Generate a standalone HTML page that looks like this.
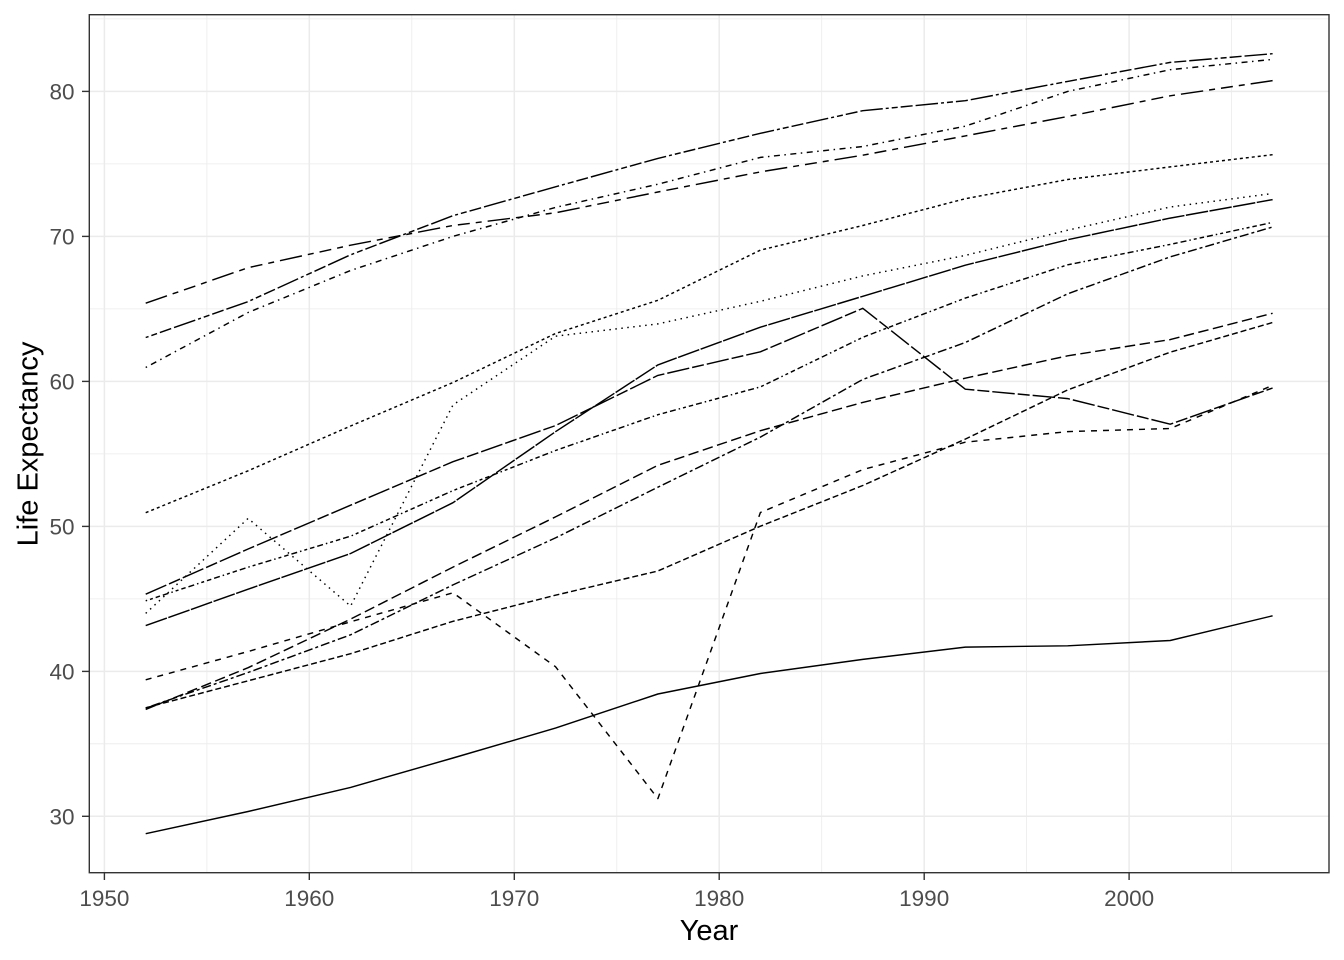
<!DOCTYPE html>
<html>
<head>
<meta charset="utf-8">
<style>
html,body{margin:0;padding:0;background:#fff;}
svg{display:block;}
text{font-family:"Liberation Sans",Arial,sans-serif;}
</style>
</head>
<body>
<svg width="1344" height="960" viewBox="0 0 1344 960" xmlns="http://www.w3.org/2000/svg">
<rect x="0" y="0" width="1344" height="960" fill="#fff"/>
<!-- minor grid -->
<g stroke="#ebebeb" stroke-width="0.8" fill="none">
<line x1="89" x2="1329" y1="18.9" y2="18.9"/>
<line x1="89" x2="1329" y1="163.9" y2="163.9"/>
<line x1="89" x2="1329" y1="308.9" y2="308.9"/>
<line x1="89" x2="1329" y1="453.9" y2="453.9"/>
<line x1="89" x2="1329" y1="598.9" y2="598.9"/>
<line x1="89" x2="1329" y1="743.8" y2="743.8"/>
<line y1="15" y2="873" x1="206.9" x2="206.9"/>
<line y1="15" y2="873" x1="411.8" x2="411.8"/>
<line y1="15" y2="873" x1="616.8" x2="616.8"/>
<line y1="15" y2="873" x1="821.7" x2="821.7"/>
<line y1="15" y2="873" x1="1026.6" x2="1026.6"/>
<line y1="15" y2="873" x1="1231.6" x2="1231.6"/>
</g>
<!-- major grid -->
<g stroke="#ebebeb" stroke-width="1.5" fill="none">
<line x1="89" x2="1329" y1="91.4" y2="91.4"/>
<line x1="89" x2="1329" y1="236.4" y2="236.4"/>
<line x1="89" x2="1329" y1="381.4" y2="381.4"/>
<line x1="89" x2="1329" y1="526.4" y2="526.4"/>
<line x1="89" x2="1329" y1="671.4" y2="671.4"/>
<line x1="89" x2="1329" y1="816.3" y2="816.3"/>
<line y1="15" y2="873" x1="104.4" x2="104.4"/>
<line y1="15" y2="873" x1="309.3" x2="309.3"/>
<line y1="15" y2="873" x1="514.3" x2="514.3"/>
<line y1="15" y2="873" x1="719.2" x2="719.2"/>
<line y1="15" y2="873" x1="924.2" x2="924.2"/>
<line y1="15" y2="873" x1="1129.1" x2="1129.1"/>
</g>
<!-- series -->
<g fill="none" stroke="#000" stroke-width="1.45" stroke-linejoin="round" stroke-linecap="butt">
<!-- Afghanistan solid -->
<polyline points="145.7,833.7 248.1,811.5 350.6,787.4 453.0,758.0 555.5,728.1 657.9,694.0 760.4,673.5 862.8,659.4 965.3,647.1 1067.7,645.8 1170.2,640.5 1272.6,615.8"/>
<!-- Bahrain 22 -->
<polyline stroke-dasharray="3 3" points="145.7,512.7 248.1,470.8 350.6,426.0 453.0,382.5 555.5,333.5 657.9,300.3 760.4,250.1 862.8,225.5 965.3,198.7 1067.7,179.5 1170.2,166.9 1272.6,154.7"/>
<!-- Bangladesh 42 -->
<polyline stroke-dasharray="6 3" points="145.7,707.8 248.1,680.8 350.6,653.7 453.0,621.3 555.5,595.2 657.9,571.0 760.4,526.2 862.8,485.5 965.3,439.1 1067.7,389.9 1170.2,352.2 1272.6,322.5"/>
<!-- Cambodia 44 -->
<polyline stroke-dasharray="6 6" points="145.7,679.8 248.1,651.5 350.6,621.8 453.0,592.8 555.5,666.7 657.9,798.6 760.4,512.5 862.8,469.6 965.3,442.2 1067.7,431.6 1170.2,428.5 1272.6,385.4"/>
<!-- China 13 -->
<polyline stroke-dasharray="1.5 4.5" points="145.7,613.4 248.1,518.4 350.6,606.1 453.0,404.9 555.5,336.2 657.9,323.9 760.4,301.3 862.8,275.9 965.3,255.4 1067.7,230.2 1170.2,207.0 1272.6,193.5"/>
<!-- Hong Kong 1343 -->
<polyline stroke-dasharray="1.5 4.5 6 4.5" points="145.7,367.5 248.1,312.5 350.6,270.5 453.0,236.4 555.5,207.4 657.9,184.2 760.4,157.4 862.8,146.5 965.3,126.2 1067.7,91.4 1170.2,69.7 1272.6,59.4"/>
<!-- India 73 -->
<polyline stroke-dasharray="10.5 4.5" points="145.7,709.4 248.1,667.7 350.6,619.1 453.0,567.1 555.5,516.9 657.9,465.3 760.4,430.7 862.8,402.4 965.3,378.2 1067.7,355.8 1170.2,339.6 1272.6,313.3"/>
<!-- Indonesia 2262 -->
<polyline stroke-dasharray="3 3 9 3" points="145.7,708.0 248.1,672.5 350.6,634.8 453.0,584.9 555.5,537.9 657.9,487.2 760.4,437.1 862.8,379.4 965.3,342.5 1067.7,293.8 1170.2,256.9 1272.6,227.0"/>
<!-- Iran 12223242 -->
<polyline stroke-dasharray="1.5 3 3 3 4.5 3 6 3" points="145.7,600.8 248.1,567.2 350.6,536.2 453.0,490.6 555.5,450.5 657.9,414.7 760.4,386.9 862.8,337.3 965.3,298.1 1067.7,264.8 1170.2,244.4 1272.6,222.4"/>
<!-- Iraq F282 -->
<polyline stroke-dasharray="22.5 3 12 3" points="145.7,594.2 248.1,549.0 350.6,505.2 453.0,461.7 555.5,425.6 657.9,375.4 760.4,351.8 862.8,308.3 965.3,389.2 1067.7,398.6 1170.2,424.2 1272.6,388.0"/>
<!-- Israel F4448444 -->
<polyline stroke-dasharray="22.5 6 6 6 12 6 6 6" points="145.7,303.2 248.1,267.7 350.6,245.2 453.0,225.5 555.5,212.8 657.9,192.0 760.4,171.9 862.8,155.2 965.3,135.9 1067.7,116.5 1170.2,95.8 1272.6,80.6"/>
<!-- Japan 224282F2 -->
<polyline stroke-dasharray="3 3 6 3 12 3 22.5 3" points="145.7,337.5 248.1,301.6 350.6,254.8 453.0,215.7 555.5,186.8 657.9,158.4 760.4,133.3 862.8,110.7 965.3,100.7 1067.7,81.4 1170.2,62.4 1272.6,53.7"/>
<!-- Jordan F1 -->
<polyline stroke-dasharray="22.5 1.5" points="145.7,625.6 248.1,589.2 350.6,553.5 453.0,502.7 555.5,431.7 657.9,364.9 760.4,327.2 862.8,296.3 965.3,265.2 1067.7,239.7 1170.2,218.1 1272.6,199.6"/>
</g>
<!-- panel border -->
<rect x="89.3" y="14.7" width="1239.7" height="858" fill="none" stroke="#333" stroke-width="1.4"/>
<!-- ticks -->
<g stroke="#333" stroke-width="1.4">
<line x1="82" x2="89.3" y1="91.4" y2="91.4"/>
<line x1="82" x2="89.3" y1="236.4" y2="236.4"/>
<line x1="82" x2="89.3" y1="381.4" y2="381.4"/>
<line x1="82" x2="89.3" y1="526.4" y2="526.4"/>
<line x1="82" x2="89.3" y1="671.4" y2="671.4"/>
<line x1="82" x2="89.3" y1="816.3" y2="816.3"/>
<line y1="872.7" y2="880" x1="104.4" x2="104.4"/>
<line y1="872.7" y2="880" x1="309.3" x2="309.3"/>
<line y1="872.7" y2="880" x1="514.3" x2="514.3"/>
<line y1="872.7" y2="880" x1="719.2" x2="719.2"/>
<line y1="872.7" y2="880" x1="924.2" x2="924.2"/>
<line y1="872.7" y2="880" x1="1129.1" x2="1129.1"/>
</g>
<!-- tick labels -->
<g fill="#4d4d4d" font-size="22.5" text-anchor="end">
<text x="74.5" y="99.5">80</text>
<text x="74.5" y="244.5">70</text>
<text x="74.5" y="389.5">60</text>
<text x="74.5" y="534.5">50</text>
<text x="74.5" y="679.5">40</text>
<text x="74.5" y="824.4">30</text>
</g>
<g fill="#4d4d4d" font-size="22.5" text-anchor="middle">
<text x="104.4" y="906">1950</text>
<text x="309.3" y="906">1960</text>
<text x="514.3" y="906">1970</text>
<text x="719.2" y="906">1980</text>
<text x="924.2" y="906">1990</text>
<text x="1129.1" y="906">2000</text>
</g>
<!-- axis titles -->
<text x="709" y="940" font-size="29" text-anchor="middle" fill="#000">Year</text>
<text transform="translate(37.3,444) rotate(-90)" font-size="29" text-anchor="middle" fill="#000">Life Expectancy</text>
</svg>
</body>
</html>
